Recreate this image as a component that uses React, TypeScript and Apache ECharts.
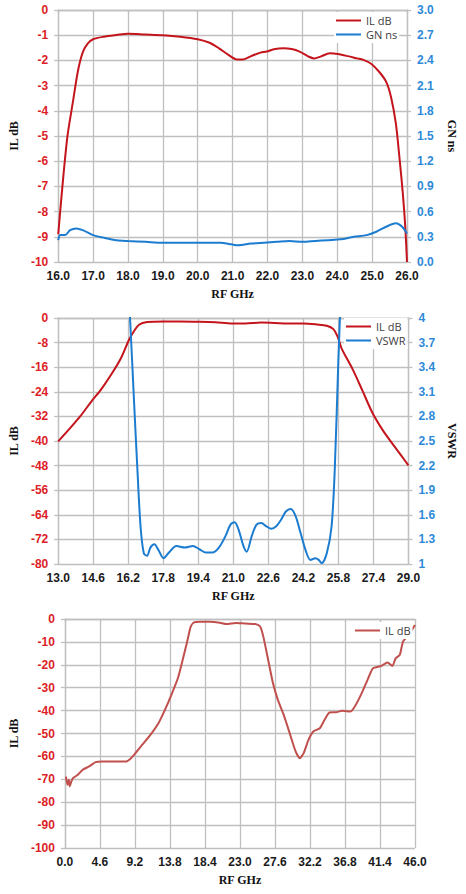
import React, { useEffect, useRef } from "react";
import * as echarts from "echarts";

// ---------- Chart 1: IL dB & GN ns, 16–26 GHz ----------
const freq1IL = [16.0, 16.25, 16.43, 16.57, 16.71, 16.85, 17.0, 17.3, 17.67, 18.0, 18.5, 19.0, 19.5, 20.0, 20.34, 20.61, 20.89, 21.12, 21.3, 21.53, 21.8, 21.98, 22.18, 22.46, 22.69, 22.92, 23.15, 23.33, 23.52, 23.79, 24.02, 24.3, 24.57, 24.75, 24.98, 25.2, 25.4, 25.54, 25.68, 25.79, 25.88, 25.95, 26.0];
const il1 = [-8.9, -5.16, -3.57, -2.38, -1.65, -1.32, -1.16, -1.06, -0.99, -0.94, -0.97, -1.0, -1.06, -1.16, -1.3, -1.52, -1.79, -1.96, -1.96, -1.83, -1.69, -1.65, -1.56, -1.52, -1.55, -1.65, -1.83, -1.92, -1.85, -1.72, -1.75, -1.83, -1.92, -1.98, -2.14, -2.45, -2.84, -3.44, -4.5, -5.95, -7.28, -8.6, -10.0];
const freq1GN = [16.0, 16.06, 16.2, 16.34, 16.52, 16.7, 17.0, 17.3, 17.67, 18.0, 18.5, 19.0, 19.5, 20.0, 20.65, 20.97, 21.15, 21.53, 21.9, 22.26, 22.63, 23.0, 23.37, 23.74, 24.1, 24.47, 24.84, 25.12, 25.4, 25.68, 25.86, 26.0];
const gn1 = [0.26, 0.32, 0.32, 0.38, 0.4, 0.38, 0.32, 0.29, 0.26, 0.25, 0.24, 0.23, 0.23, 0.23, 0.23, 0.21, 0.2, 0.22, 0.23, 0.24, 0.25, 0.24, 0.25, 0.26, 0.27, 0.3, 0.32, 0.36, 0.42, 0.46, 0.42, 0.34];

// ---------- Chart 2: IL dB & VSWR, 13–29 GHz ----------
const freq2IL = [13.0, 13.48, 14.0, 14.52, 14.97, 15.42, 15.87, 16.24, 16.46, 16.69, 17.06, 17.81, 18.55, 19.45, 20.19, 20.94, 21.54, 22.28, 22.88, 23.48, 24.22, 24.82, 25.27, 25.57, 25.79, 25.94, 26.46, 26.91, 27.36, 27.81, 28.25, 28.7, 29.0];
const il2 = [-40.1, -36.3, -32.0, -27.1, -23.1, -18.4, -13.0, -7.0, -4.3, -2.2, -1.3, -1.1, -1.1, -1.2, -1.4, -1.8, -1.8, -1.5, -1.6, -1.8, -1.8, -2.1, -2.5, -3.6, -6.5, -9.8, -16.8, -23.8, -30.9, -36.3, -40.7, -45.0, -47.9];
const freq2V = [16.15, 16.28, 16.46, 16.61, 16.76, 16.91, 17.06, 17.21, 17.39, 17.58, 17.81, 18.03, 18.4, 18.78, 19.15, 19.45, 19.75, 20.04, 20.34, 20.64, 20.87, 21.06, 21.24, 21.46, 21.61, 21.84, 22.06, 22.28, 22.51, 22.73, 22.96, 23.18, 23.4, 23.63, 23.85, 24.07, 24.3, 24.52, 24.75, 24.9, 25.04, 25.27, 25.49, 25.64, 25.79, 25.87, 25.95];
const vswr2 = [4.6, 4.0, 3.0, 2.19, 1.46, 1.13, 1.1, 1.2, 1.24, 1.17, 1.07, 1.13, 1.22, 1.2, 1.22, 1.18, 1.14, 1.14, 1.2, 1.34, 1.48, 1.51, 1.42, 1.22, 1.15, 1.34, 1.48, 1.5, 1.46, 1.43, 1.46, 1.54, 1.64, 1.67, 1.58, 1.38, 1.17, 1.05, 1.07, 1.05, 1.01, 1.13, 1.46, 2.19, 3.41, 4.0, 4.6];

// ---------- Chart 3: IL dB, 0–46 GHz ----------
const freq3 = [0.13, 0.34, 0.51, 0.64, 0.85, 1.06, 1.7, 2.33, 3.18, 4.03, 4.87, 5.93, 6.99, 8.05, 8.69, 9.33, 10.17, 11.23, 12.29, 13.14, 13.99, 14.84, 15.47, 16.11, 16.53, 16.96, 17.8, 19.08, 20.35, 21.2, 22.47, 23.74, 25.01, 25.65, 26.07, 26.71, 27.34, 27.98, 28.83, 29.67, 30.31, 30.86, 31.37, 32.0, 32.64, 33.49, 34.12, 34.76, 35.61, 36.46, 37.52, 38.15, 39.0, 39.85, 40.48, 41.54, 42.39, 43.03, 43.45, 44.0, 44.43, 45.15, 46.0];
const il3 = [-68.8, -72.4, -70.2, -73.1, -70.9, -69.5, -68.0, -65.8, -64.4, -62.5, -62.2, -62.2, -62.2, -62.2, -60.8, -58.3, -54.9, -50.6, -45.5, -39.7, -33.1, -25.9, -17.9, -9.2, -3.3, -1.5, -1.2, -1.2, -1.6, -2.2, -1.7, -2.0, -2.2, -3.3, -7.7, -17.9, -28.1, -35.3, -42.6, -51.3, -57.8, -60.8, -58.6, -52.8, -49.1, -47.7, -44.0, -40.8, -40.7, -40.1, -40.4, -37.9, -32.4, -25.9, -21.5, -20.5, -19.0, -20.5, -17.2, -15.7, -9.9, -7.0, -2.6];

const legendNames: Record<string, string> = {
  il1: "IL dB",
  gn1: "GN ns",
  il2: "IL dB",
  vswr2: "VSWR",
  il3: "IL dB",
};

const RED_LINE = "#C4141C";
const BLUE_LINE = "#1C7CD0";
const RED_LABEL = "#DC1E28";
const BLUE_LABEL = "#2E8AD8";
const GRID = "#BFBFBF";
const LABEL_FONT = "'Liberation Sans', Arial, sans-serif";
const NAME_FONT = "'Liberation Serif', 'Times New Roman', serif";

const zip = (xs: number[], ys: number[]) => xs.map((x, i) => [x, ys[i]]);
const fmt1 = (v: number) => v.toFixed(1);
const fmtTrim = (v: number) => String(Math.round(v * 10) / 10);

function xAxisCfg(gridIndex: number, min: number, max: number, interval: number) {
  return {
    type: "value",
    gridIndex,
    min,
    max,
    interval,
    name: "RF GHz",
    nameLocation: "middle",
    nameGap: 26,
    nameTextStyle: { fontFamily: NAME_FONT, fontWeight: "bold", fontSize: 12, color: "#111" },
    axisLine: { show: true, lineStyle: { color: GRID, width: 1.3 } },
    axisTick: { show: true, length: 3, lineStyle: { color: GRID, width: 1.3 } },
    splitLine: { show: true, lineStyle: { color: GRID, width: 1.3 } },
    axisLabel: {
      formatter: fmt1,
      margin: 8,
      fontFamily: LABEL_FONT,
      fontWeight: "bold",
      fontSize: 12,
      color: "#1a1a1a",
    },
  };
}

function yAxisCfg(opts: {
  gridIndex: number;
  min: number;
  max: number;
  interval: number;
  name: string;
  position: "left" | "right";
  color: string;
  nameGap: number;
  formatter?: (v: number) => string;
  split: boolean;
}) {
  return {
    type: "value",
    gridIndex: opts.gridIndex,
    position: opts.position,
    min: opts.min,
    max: opts.max,
    interval: opts.interval,
    name: opts.name,
    nameLocation: "middle",
    nameRotate: opts.position === "left" ? 90 : -90,
    nameGap: opts.nameGap,
    nameTextStyle: { fontFamily: NAME_FONT, fontWeight: "bold", fontSize: 12, color: "#111" },
    axisLine: { show: true, lineStyle: { color: GRID, width: 1.3 } },
    axisTick: { show: true, length: 4, lineStyle: { color: GRID, width: 1.3 } },
    splitLine: { show: opts.split, lineStyle: { color: GRID, width: 1.3 } },
    axisLabel: {
      formatter: opts.formatter,
      margin: 10,
      fontFamily: LABEL_FONT,
      fontWeight: "bold",
      fontSize: 12,
      color: opts.color,
    },
  };
}

function legendCfg(left: number, top: number, names: string[]) {
  return {
    left,
    top,
    orient: "vertical",
    data: names,
    icon: "rect",
    backgroundColor: "#ffffff",
    padding: [2, 2, 2, 2],
    itemGap: 1,
    itemWidth: 25,
    itemHeight: 2,
    formatter: (n: string) => legendNames[n] ?? n,
    textStyle: {
      fontFamily: "'Open Sans', 'Liberation Sans', sans-serif",
      fontSize: 11,
      lineHeight: 13,
      color: "#404040",
    },
  };
}

export default function App() {
  const ref = useRef<HTMLDivElement>(null);

  useEffect(() => {
    if (!ref.current) return;
    const chart = echarts.init(ref.current, undefined, { renderer: "svg" });
    const lineCommon = { type: "line", showSymbol: false, symbol: "none" };
    chart.setOption({
      animation: false,
      backgroundColor: "#ffffff",
      grid: [
        { left: 53, top: 10, width: 362, height: 252 },
        { left: 56, top: 318, width: 357, height: 246 },
        { left: 53, top: 619, width: 362, height: 229 },
      ],
      legend: [
        legendCfg(334, 12, ["il1", "gn1"]),
        legendCfg(344, 318, ["il2", "vswr2"]),
        legendCfg(353, 622, ["il3"]),
      ],
      xAxis: [xAxisCfg(0, 16, 26, 1), xAxisCfg(1, 13, 29, 1.6), xAxisCfg(2, 0, 46, 4.6)],
      yAxis: [
        yAxisCfg({ gridIndex: 0, min: -10, max: 0, interval: 1, name: "IL dB", position: "left", color: RED_LABEL, nameGap: 34, split: true }),
        yAxisCfg({ gridIndex: 0, min: 0, max: 3, interval: 0.3, name: "GN ns", position: "right", color: BLUE_LABEL, nameGap: 39, formatter: fmt1, split: false }),
        yAxisCfg({ gridIndex: 1, min: -80, max: 0, interval: 8, name: "IL dB", position: "left", color: RED_LABEL, nameGap: 34, split: true }),
        yAxisCfg({ gridIndex: 1, min: 1, max: 4, interval: 0.3, name: "VSWR", position: "right", color: BLUE_LABEL, nameGap: 35, formatter: fmtTrim, split: false }),
        yAxisCfg({ gridIndex: 2, min: -100, max: 0, interval: 10, name: "IL dB", position: "left", color: RED_LABEL, nameGap: 42, split: true }),
      ],
      series: [
        { ...lineCommon, name: "il1", xAxisIndex: 0, yAxisIndex: 0, smooth: 0.3, data: zip(freq1IL, il1), lineStyle: { color: RED_LINE, width: 2 }, itemStyle: { color: RED_LINE } },
        { ...lineCommon, name: "gn1", xAxisIndex: 0, yAxisIndex: 1, smooth: 0.3, data: zip(freq1GN, gn1), lineStyle: { color: BLUE_LINE, width: 2 }, itemStyle: { color: BLUE_LINE } },
        { ...lineCommon, name: "il2", xAxisIndex: 1, yAxisIndex: 2, smooth: 0.3, data: zip(freq2IL, il2), lineStyle: { color: RED_LINE, width: 2 }, itemStyle: { color: RED_LINE } },
        { ...lineCommon, name: "vswr2", xAxisIndex: 1, yAxisIndex: 3, smooth: 0.3, clip: true, data: zip(freq2V, vswr2), lineStyle: { color: BLUE_LINE, width: 2 }, itemStyle: { color: BLUE_LINE } },
        { ...lineCommon, name: "il3", xAxisIndex: 2, yAxisIndex: 4, smooth: 0.2, data: zip(freq3, il3), lineStyle: { color: "#C0504D", width: 2 }, itemStyle: { color: "#C0504D" } },
      ],
    });
    return () => chart.dispose();
  }, []);

  return (
    <div
      ref={ref}
      style={{ position: "absolute", left: 0, top: 0, width: 466, height: 894, background: "#fff" }}
    />
  );
}
